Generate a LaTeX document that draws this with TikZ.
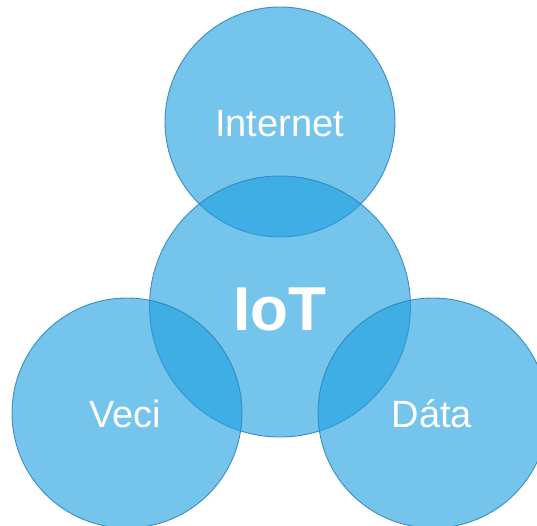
\documentclass[tikz,border=0pt]{standalone}
\usepackage{fontspec}
\setmainfont{Liberation Sans}
\definecolor{bubblefill}{HTML}{1EA0E1}
\definecolor{bubbleline}{HTML}{2E86BE}
\begin{document}
\begin{tikzpicture}[x=1pt,y=-1pt,
  bubble/.style={draw=bubbleline,line width=0.9pt,fill=bubblefill,fill opacity=0.62,draw opacity=0.9,circle,inner sep=0pt},
  lbl/.style={text=white,anchor=base,inner sep=0pt,font=\fontsize{38}{40}\selectfont},
  biglbl/.style={text=white,anchor=base,inner sep=0pt,font=\fontsize{62}{64}\selectfont\bfseries}]
\useasboundingbox (0,0) rectangle (537,526);
\node[bubble,minimum size=230pt] (internet) at (280,122) {};
\node[bubble,minimum size=261pt] (iot) at (280,306.5) {};
\node[bubble,minimum size=230pt] (veci) at (127,413) {};
\node[bubble,minimum size=230pt] (data) at (433,413) {};
\node[lbl] (tinternet) at (279.5,137) {Internet};
\node[biglbl] (tiot) at (280,330) {IoT};
\node[lbl] (tveci) at (125.5,427) {Veci};
\node[lbl] (tdata) at (431.7,427) {Dáta};
\end{tikzpicture}
\end{document}
